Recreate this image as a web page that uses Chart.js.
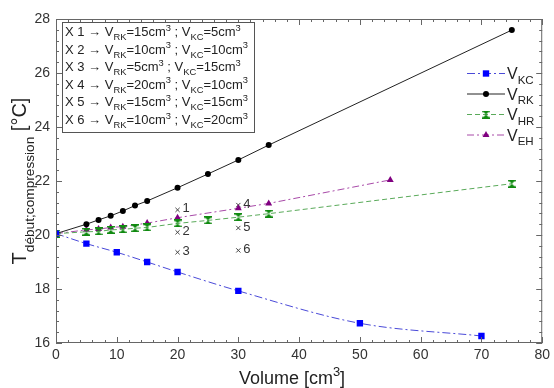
<!DOCTYPE html>
<html>
<head>
<meta charset="utf-8">
<script src="https://cdn.jsdelivr.net/npm/chart.js@4.4.1/dist/chart.umd.min.js"></script>
<style>
  body { margin: 0; background: #fff; }
  #wrap { width: 554px; height: 388px; }
</style>
</head>
<body>
<div id="wrap"><canvas id="tempChart"></canvas></div>
<script>
// volumes (cm3) and start-of-compression temperatures (°C)
const volKC = [0, 5, 10, 15, 20, 30, 50, 70];
const tempKC = [20.05, 19.68, 19.36, 19.0, 18.63, 17.93, 16.73, 16.26];
const volRK = [0, 5, 7, 9, 11, 13, 15, 20, 25, 30, 35, 75];
const tempRK = [20.05, 20.4, 20.56, 20.71, 20.89, 21.09, 21.26, 21.75, 22.26, 22.78, 23.33, 27.59];
const volHR = [0, 5, 7, 9, 11, 13, 15, 20, 25, 30, 35, 75];
const tempHR = [20.05, 20.12, 20.13, 20.19, 20.21, 20.25, 20.28, 20.43, 20.54, 20.66, 20.79, 21.9];
const volEH = [0, 5, 7, 9, 11, 15, 20, 30, 35, 55];
const tempEH = [20.05, 20.19, 20.22, 20.28, 20.31, 20.44, 20.64, 20.99, 21.17, 22.04];

// mixed cases marked with x1..x6
const caseNo = [1, 2, 3, 4, 5, 6];
const caseVol = [20, 20, 20, 30, 30, 30];
const caseTemp = [20.93, 20.1, 19.36, 21.11, 20.26, 19.43];
const caseRK = [15, 10, 5, 20, 15, 10];
const caseKC = [5, 10, 15, 10, 15, 20];

const xTicks = [0, 10, 20, 30, 40, 50, 60, 70, 80];
const yTicks = [16, 18, 20, 22, 24, 26, 28];

const FONT = 'Arial, "Liberation Sans", sans-serif';

function pts(xs, ys) {
    return xs.map((x, i) => ({ x: x, y: ys[i] }));
}

// hourglass marker for V_HR
function hourglass(color) {
    var c = document.createElement('canvas');
    c.width = 8; c.height = 8;
    var g = c.getContext('2d');
    g.fillStyle = color;
    g.beginPath();
    g.moveTo(0, 0); g.lineTo(8, 0); g.lineTo(4, 4); g.closePath();
    g.moveTo(4, 4); g.lineTo(8, 8); g.lineTo(0, 8); g.closePath();
    g.fill();
    g.fillRect(0, 0, 8, 1.5);
    g.fillRect(0, 6.5, 8, 1.5);
    return c;
}
const hrMarker = hourglass('#108a10');

// draws text parts: [text, 'n' | 'sub' | 'sup']
function richText(g, parts, x, y, size, measureOnly) {
    var cx = x;
    parts.forEach(function (p) {
        var s = p[1] === 'n' ? size : size * 0.72;
        var dy = p[1] === 'sub' ? size * 0.3 : (p[1] === 'sup' ? -size * 0.42 : 0);
        g.font = s + 'px ' + FONT;
        if (!measureOnly) g.fillText(p[0], cx, y + dy);
        cx += g.measureText(p[0]).width;
    });
    return cx - x;
}

const extras = {
    id: 'extras',
    afterDraw(chart) {
        var g = chart.ctx;
        var xs = chart.scales.x, ys = chart.scales.y;
        var a = chart.chartArea;
        g.save();

        // frame and inward ticks on all four sides
        g.strokeStyle = '#666';
        g.lineWidth = 1;
        g.strokeRect(a.left + 0.5, a.top + 0.5, a.right - a.left - 1, a.bottom - a.top - 1);
        g.beginPath();
        for (var v = 0; v <= 80; v += 2) {
            var px = Math.round(xs.getPixelForValue(v)) + 0.5;
            var len = v % 10 === 0 ? 6 : 3;
            g.moveTo(px, a.bottom); g.lineTo(px, a.bottom - len);
            g.moveTo(px, a.top); g.lineTo(px, a.top + len);
        }
        for (var k = 0; k <= 30; k++) {
            var t = 16 + k * 0.4;
            var py = Math.round(ys.getPixelForValue(t)) + 0.5;
            var l2 = k % 5 === 0 ? 6 : 3;
            g.moveTo(a.left, py); g.lineTo(a.left + l2, py);
            g.moveTo(a.right, py); g.lineTo(a.right - l2, py);
        }
        g.stroke();

        // case labels next to the crosses
        g.fillStyle = '#333';
        g.font = '13px ' + FONT;
        g.textBaseline = 'middle';
        caseNo.forEach(function (n, i) {
            g.fillText(String(n), xs.getPixelForValue(caseVol[i]) + 5, ys.getPixelForValue(caseTemp[i]) - 1);
        });
        g.textBaseline = 'alphabetic';

        // case box, top left
        g.fillStyle = '#fff';
        g.fillRect(62, 22, 193, 111);
        g.strokeStyle = '#555';
        g.strokeRect(62.5, 22.5, 192, 110);
        g.fillStyle = '#222';
        caseNo.forEach(function (n, i) {
            richText(g, [
                ['X ' + n + ' \u2192 V', 'n'], ['RK', 'sub'], ['=' + caseRK[i] + 'cm', 'n'], ['3', 'sup'],
                [' ; V', 'n'], ['KC', 'sub'], ['=' + caseKC[i] + 'cm', 'n'], ['3', 'sup']
            ], 65, 36 + i * 17.6, 13);
        });

        // series legend, right
        var items = [
            { lab: 'KC', line: '#4a4ad8', dash: [8, 3, 2, 3], ds: 0 },
            { lab: 'RK', line: '#222', dash: [], ds: 1 },
            { lab: 'HR', line: '#5aaa5a', dash: [5, 3], ds: 2 },
            { lab: 'EH', line: '#a84aa8', dash: [7, 3, 2, 3], ds: 3 }
        ];
        items.forEach(function (it, i) {
            var yy = 73.5 + i * 20.5;
            g.strokeStyle = it.line;
            g.lineWidth = 1;
            g.setLineDash(it.dash);
            g.beginPath(); g.moveTo(467, yy); g.lineTo(505, yy); g.stroke();
            g.setLineDash([]);
            var ds = chart.data.datasets[it.ds];
            g.fillStyle = ds.pointBackgroundColor;
            g.strokeStyle = ds.pointBackgroundColor;
            Chart.helpers.drawPoint(g, {
                pointStyle: ds.pointStyle, radius: ds.pointRadius, borderWidth: 0, rotation: 0
            }, 486, yy);
            g.fillStyle = '#222';
            richText(g, [['V', 'n'], [it.lab, 'sub']], 507, yy + 5.5, 16);
        });

        // axis titles
        g.fillStyle = '#222';
        var xt = [['Volume [cm', 'n'], ['3', 'sup'], [']', 'n']];
        var w = richText(g, xt, 0, 0, 18, true);
        richText(g, xt, 292 - w / 2, 384, 18);

        g.translate(26, (a.top + a.bottom) / 2);
        g.rotate(-Math.PI / 2);
        var w2 = 0;
        w2 += richText(g, [['T', 'n']], 0, 0, 20, true);
        w2 += richText(g, [['d\u00e9but;compression', 'sub']], 0, 0, 19, true);
        w2 += richText(g, [[' [\u00b0C]', 'n']], 0, 0, 20, true);
        var cx = -w2 / 2;
        cx += richText(g, [['T', 'n']], cx, 0, 20);
        cx += richText(g, [['d\u00e9but;compression', 'sub']], cx, 2, 19);
        richText(g, [[' [\u00b0C]', 'n']], cx, 0, 20);
        g.restore();
    }
};

new Chart(document.getElementById('tempChart').getContext('2d'), {
    type: 'scatter',
    data: {
        datasets: [{
            label: 'V_KC',
            data: pts(volKC, tempKC),
            showLine: true,
            borderColor: '#4a4ad8',
            borderWidth: 1,
            borderDash: [8, 3, 2, 3],
            cubicInterpolationMode: 'monotone',
            pointStyle: 'rect',
            pointRadius: 4.5,
            pointBorderWidth: 0,
            pointBackgroundColor: '#0000ff',
            pointBorderColor: '#0000ff'
        }, {
            label: 'V_RK',
            data: pts(volRK, tempRK),
            showLine: true,
            borderColor: '#222',
            borderWidth: 1,
            pointStyle: 'circle',
            pointRadius: 3,
            pointBorderWidth: 0,
            pointBackgroundColor: '#000',
            pointBorderColor: '#000'
        }, {
            label: 'V_HR',
            data: pts(volHR, tempHR),
            showLine: true,
            borderColor: '#5aaa5a',
            borderWidth: 1,
            borderDash: [5, 3],
            pointStyle: hrMarker,
            pointRadius: 4,
            pointBackgroundColor: '#108a10'
        }, {
            label: 'V_EH',
            data: pts(volEH, tempEH),
            showLine: true,
            borderColor: '#a84aa8',
            borderWidth: 1,
            borderDash: [7, 3, 2, 3],
            pointStyle: 'triangle',
            pointRadius: 4,
            pointBorderWidth: 0,
            pointBackgroundColor: '#800080',
            pointBorderColor: '#800080'
        }, {
            label: 'cases',
            data: pts(caseVol, caseTemp),
            showLine: false,
            pointStyle: 'crossRot',
            pointRadius: 3,
            borderWidth: 1,
            pointBorderColor: '#444',
            pointBackgroundColor: '#444'
        }]
    },
    options: {
        responsive: true,
        maintainAspectRatio: false,
        animation: false,
        layout: { padding: { top: 19, right: 7, left: 0, bottom: 0 } },
        plugins: {
            legend: { display: false },
            tooltip: { enabled: false }
        },
        scales: {
            x: {
                type: 'linear',
                min: 0,
                max: 80,
                afterFit: function (s) { s.height = 45; },
                afterBuildTicks: function (s) { s.ticks = xTicks.map(v => ({ value: v })); },
                grid: { drawOnChartArea: false, drawTicks: false },
                border: { display: false },
                ticks: { color: '#333', font: { family: FONT, size: 14 }, padding: 4, maxRotation: 0 }
            },
            y: {
                type: 'linear',
                min: 16,
                max: 28,
                afterFit: function (s) { s.width = 56; },
                afterBuildTicks: function (s) { s.ticks = yTicks.map(v => ({ value: v })); },
                grid: { drawOnChartArea: false, drawTicks: false },
                border: { display: false },
                ticks: { color: '#333', font: { family: FONT, size: 14 }, padding: 6 }
            }
        }
    },
    plugins: [extras]
});
</script>
</body>
</html>
